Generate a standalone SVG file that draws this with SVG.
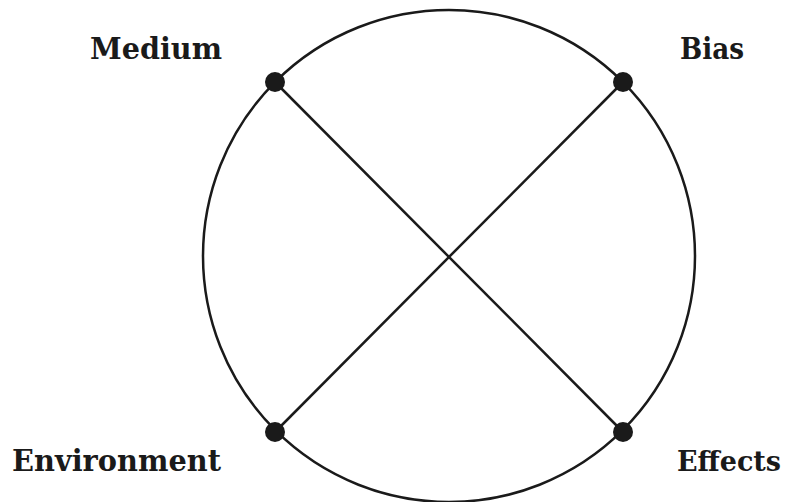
<svg xmlns="http://www.w3.org/2000/svg" width="788" height="502" viewBox="0 0 788 502">
<style>
.lbl{font-family:"DejaVu Serif","Liberation Serif",serif;font-weight:bold;font-size:29px;fill:#1a1a1a}
.ln{stroke:#1a1a1a;stroke-width:2.5;fill:none}
.dot{fill:#1a1a1a}
</style>
<rect width="788" height="502" fill="#fff"/>
<g id="circle"><circle class="ln" cx="449" cy="256" r="246"/></g>
<g id="connectors">
<line class="ln" x1="275" y1="82" x2="623" y2="432"/>
<line class="ln" x1="623" y1="82" x2="275" y2="432"/>
</g>
<g id="medium"><circle class="dot" cx="275" cy="82" r="10"/><text class="lbl" x="90" y="59" textLength="132" lengthAdjust="spacingAndGlyphs">Medium</text></g>
<g id="bias"><circle class="dot" cx="623" cy="82" r="10"/><text class="lbl" x="680" y="59" textLength="64" lengthAdjust="spacingAndGlyphs">Bias</text></g>
<g id="environment"><circle class="dot" cx="275" cy="432" r="10"/><text class="lbl" x="12" y="471" textLength="209" lengthAdjust="spacingAndGlyphs">Environment</text></g>
<g id="effects"><circle class="dot" cx="623" cy="432" r="10"/><text class="lbl" x="677" y="471" style="font-size:27px" textLength="104" lengthAdjust="spacingAndGlyphs">Effects</text></g>
</svg>
